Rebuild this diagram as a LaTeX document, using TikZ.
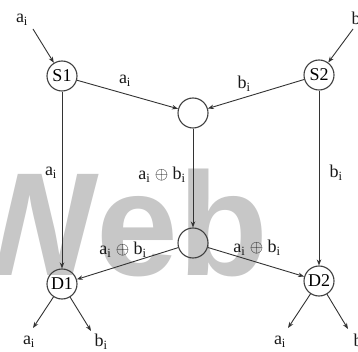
\documentclass[tikz,border=0pt]{standalone}
\usepackage{fontspec}
\setmainfont{Liberation Serif}
\newfontfamily\wmfont{Liberation Sans}
\usetikzlibrary{arrows.meta}
\begin{document}
\begin{tikzpicture}[x=1pt,y=-1pt,
  every node/.style={font=\fontsize{18}{21}\selectfont},
  circ/.style={circle,draw=black!75,line width=1.1pt,minimum size=30pt,inner sep=0pt},
  conn/.style={draw=black!80,line width=0.9pt,-{Stealth[length=6pt,width=4.5pt]}},
  lbl/.style={inner sep=0pt,text=black!90}]
\useasboundingbox (0,0) rectangle (358,352);
\fill[white] (0,0) rectangle (358,352);
% watermark
\node[anchor=base east,inner sep=0pt,text=black!22,font=\wmfont\bfseries\fontsize{147}{150}\selectfont] (wm) at (268,275) {Web};
% main nodes
\node[circ] (S1) at (62,76) {S1};
\node[circ] (S2) at (319,75) {S2};
\node[circ] (M) at (193,113) {};
\node[circ] (N) at (193,243) {};
\node[circ] (D1) at (62,284) {D1};
\node[circ] (D2) at (319,281) {D2};
% inputs
\node[lbl] (ain) at (22,20) {a\textsubscript{i}};
\node[lbl] (bin) at (358,20) {b\textsubscript{i}};
\coordinate (ainS) at (33,29);
\coordinate (binS) at (353,29);
\draw[conn] (ainS) -- (S1);
\draw[conn] (binS) -- (S2);
% outputs
\coordinate (o1) at (33,328);
\coordinate (o2) at (91,331);
\coordinate (o3) at (288,328);
\coordinate (o4) at (348,329);
\node[lbl] (oa1) at (29,342) {a\textsubscript{i}};
\node[lbl] (ob1) at (101,342) {b\textsubscript{i}};
\node[lbl] (oa2) at (280,342) {a\textsubscript{i}};
\node[lbl] (ob2) at (360,342) {b\textsubscript{i}};
\draw[conn] (D1) -- (o1);
\draw[conn] (D1) -- (o2);
\draw[conn] (D2) -- (o3);
\draw[conn] (D2) -- (o4);
% connectors
\draw[conn] (S1) -- (M);
\draw[conn] (S2) -- (M);
\draw[conn] (S1) -- (D1);
\draw[conn] (S2) -- (D2);
\draw[conn] (M) -- (N);
\draw[conn] (N) -- (D1);
\draw[conn] (N) -- (D2);
% labels
\node[lbl] (l1) at (125,81) {a\textsubscript{i}};
\node[lbl] (l2) at (244,84) {b\textsubscript{i}};
\node[lbl] (l3) at (51,173) {a\textsubscript{i}};
\node[lbl] (l4) at (162,175) {a\textsubscript{i} $\oplus$ b\textsubscript{i}};
\node[lbl] (l5) at (336,173) {b\textsubscript{i}};
\node[lbl] (l6) at (123,250) {a\textsubscript{i} $\oplus$ b\textsubscript{i}};
\node[lbl] (l7) at (257,248) {a\textsubscript{i} $\oplus$ b\textsubscript{i}};
\end{tikzpicture}
\end{document}
